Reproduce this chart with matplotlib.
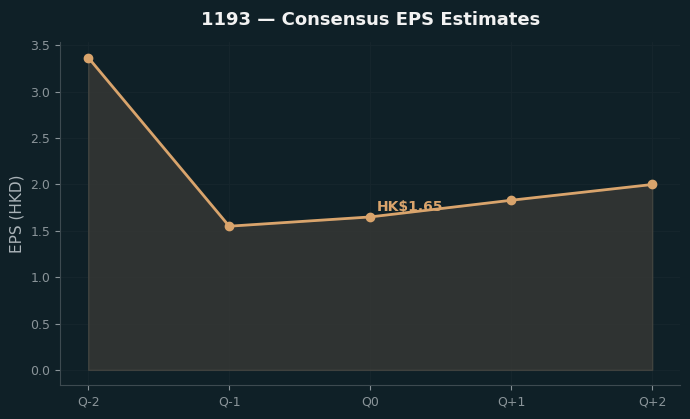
import matplotlib
matplotlib.use("Agg")
import matplotlib.pyplot as plt
import numpy as np

## ------------------------------- ##
quarters = ["Q-2", "Q-1", "Q0", "Q+1", "Q+2"]
eps = [3.37, 1.55, 1.65, 1.83, 2.00]
current_label = "HK$1.65"
## ------------------------------- ##

bg = "#0f2027"
line_col = "#d9a46c"
tick_col = "#8a9499"

fig, ax = plt.subplots(figsize=(6.9, 4.19), dpi=100)
fig.patch.set_facecolor(bg)
ax.set_facecolor(bg)

x = np.arange(len(quarters))
ax.fill_between(x, 0, eps, color="#3a3a36", alpha=0.75, edgecolor="#4a4a44", lw=1)
ax.plot(x, eps, "-o", color=line_col, lw=2, ms=6)

ax.annotate(current_label, xy=(2, eps[2]), xytext=(5, 2), textcoords="offset points",
            color=line_col, fontsize=10, fontweight="bold", ha="left", va="bottom")

ax.set_xticks(x)
ax.set_xticklabels(quarters)
ax.set_ylabel("EPS (HKD)", color="#aab3b8", fontsize=11)
ax.set_title("1193 — Consensus EPS Estimates", color="#f2f2f2", fontsize=13,
             fontweight="bold", pad=12)

ax.grid(True, color="#17262d", lw=0.6)
ax.set_axisbelow(True)
for s in ["top", "right"]:
    ax.spines[s].set_visible(False)
for s in ["left", "bottom"]:
    ax.spines[s].set_color("#3d4a50")
ax.tick_params(colors=tick_col, labelsize=9)
for t in ax.get_xticklabels() + ax.get_yticklabels():
    t.set_color(tick_col)

plt.subplots_adjust(left=0.087, right=0.986, top=0.9, bottom=0.08)
plt.savefig("out.png", facecolor=bg)
